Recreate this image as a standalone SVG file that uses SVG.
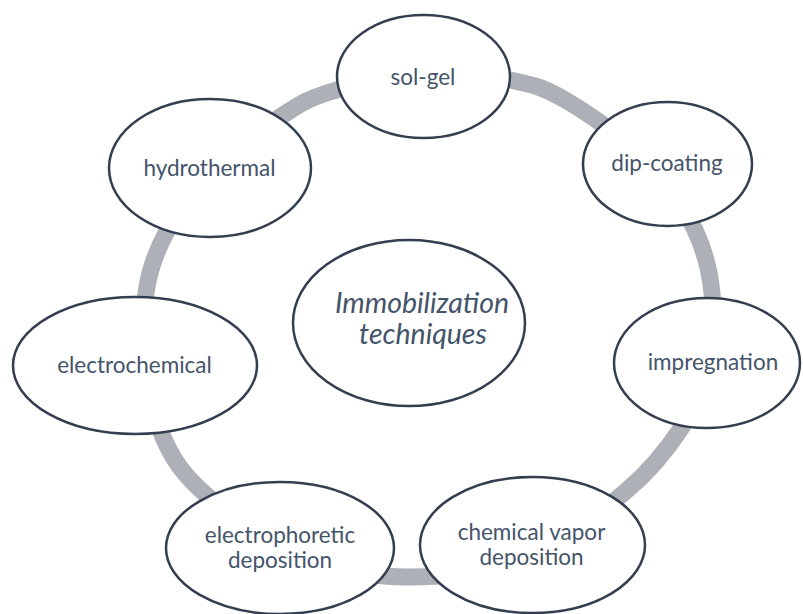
<svg xmlns="http://www.w3.org/2000/svg" width="803" height="614" viewBox="0 0 803 614">
<style>
.node{fill:#ffffff;stroke:#333f50;stroke-width:2.5}
.lbl{font-family:Lato,"Open Sans",sans-serif;font-size:22.5px;fill:#44546a;text-anchor:middle}
.ctr{font-family:Lato,"Open Sans",sans-serif;font-size:28.5px;font-style:italic;fill:#44546a;text-anchor:middle}
.ring{fill:none;stroke:#adb0b6;stroke-width:17}
</style>
<rect width="803" height="614" fill="#ffffff"/>
<g id="connectors">
<path class="ring" d="M425,72 C455,70 486.3,75.2 510,80 C533.7,84.8 543.7,87.2 567,101 C590.3,114.8 628.7,141.5 650,163 C671.3,184.5 684.7,208.3 695,230 C705.3,251.7 709.8,270.5 712,293 C714.2,315.5 713,342.7 708,365 C703,387.3 695.8,405.8 682,427 C668.2,448.2 651.2,470.2 625,492 C598.8,513.8 561.7,543.8 525,558 C488.3,572.2 443.3,577.5 405,577 C366.7,576.5 328.5,569 295,555 C261.5,541 226,512.7 204,493 C182,473.3 172.3,458.3 163,437 C153.7,415.7 150.8,389 148,365 C145.2,341 143,315 146,293 C149,271 154.5,254.3 166,233 C177.5,211.7 196,184.3 215,165 C234,145.7 260.8,129.2 280,117 C299.2,104.8 305.8,99.5 330,92 C354.2,84.5 395,74 425,72 Z"/>
</g>
<g id="center">
<ellipse class="node" cx="409" cy="323" rx="116" ry="83"/>
<text class="ctr" x="422" y="313">Immobilization</text>
<text class="ctr" x="423" y="344">techniques</text>
</g>
<g id="sol-gel">
<ellipse class="node" cx="423.5" cy="76.5" rx="86.5" ry="61.5"/>
<text class="lbl" x="423" y="85">sol-gel</text>
</g>
<g id="dip-coating">
<ellipse class="node" cx="667.5" cy="164" rx="84.5" ry="62"/>
<text class="lbl" x="667" y="171">dip-coating</text>
</g>
<g id="impregnation">
<ellipse class="node" cx="707" cy="363" rx="93" ry="65"/>
<text class="lbl" x="713" y="370">impregnation</text>
</g>
<g id="chemical-vapor-deposition">
<ellipse class="node" cx="532.5" cy="545" rx="112.5" ry="68"/>
<text class="lbl" x="531.5" y="540">chemical vapor</text>
<text class="lbl" x="531.5" y="565">deposition</text>
</g>
<g id="electrophoretic-deposition">
<ellipse class="node" cx="280" cy="548" rx="114" ry="66"/>
<text class="lbl" x="280" y="543">electrophoretic</text>
<text class="lbl" x="280" y="568">deposition</text>
</g>
<g id="electrochemical">
<ellipse class="node" cx="135" cy="365.5" rx="122" ry="68.5"/>
<text class="lbl" x="134.5" y="373">electrochemical</text>
</g>
<g id="hydrothermal">
<ellipse class="node" cx="210" cy="168" rx="101" ry="69"/>
<text class="lbl" x="209.5" y="176">hydrothermal</text>
</g>
</svg>
